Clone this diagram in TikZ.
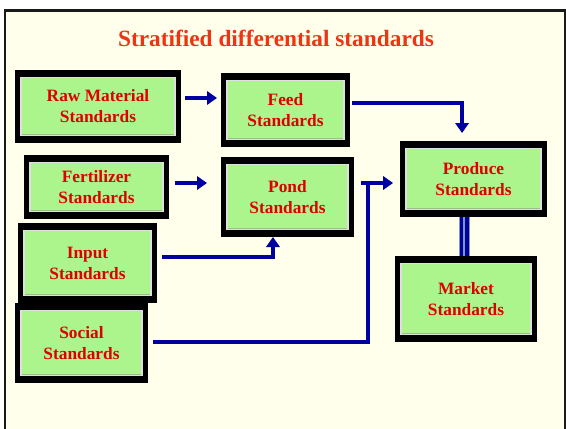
\documentclass[tikz,border=0pt]{standalone}
\usepackage{fontspec}
\setmainfont{Liberation Serif}
\usepackage{tikz}
\usetikzlibrary{arrows.meta,positioning,calc}

\definecolor{slidebg}{RGB}{255,255,236}
\definecolor{boxgreen}{RGB}{172,245,140}
\definecolor{txtred}{RGB}{222,0,0}
\definecolor{ttlred}{RGB}{238,52,20}
\definecolor{wireblue}{RGB}{0,0,160}
\definecolor{pipeedge}{RGB}{125,155,185}

\tikzset{
  slide/.style  = {draw=black!90, line width=2pt, fill=slidebg},
  ttl/.style    = {font=\fontsize{17.5}{20}\selectfont\bfseries, text=ttlred},
  stdbox/.style 2 args = {rectangle, fill=black, outer sep=0pt, inner sep=0pt,
                  minimum width={#1*0.75pt}, minimum height={#2*0.75pt},
                  align=center, text=txtred,
                  font=\fontsize{13}{15.8}\selectfont\bfseries,
                  path picture={
                    \draw[white!75!gray, line width=1pt, fill=boxgreen]
                      ([shift={(4.6pt,-5.4pt)}]path picture bounding box.north west)
                      rectangle ([shift={(-4.6pt,5.4pt)}]path picture bounding box.south east);
                    \draw[boxgreen!55!gray, line width=1.4pt]
                      ([shift={(5.2pt,6.4pt)}]path picture bounding box.south west)
                      -- ([shift={(-5.2pt,6.4pt)}]path picture bounding box.south east);
                  }},
  wire/.style   = {draw=wireblue, line width=3.2pt,
                  -{Triangle[length=7.5pt,width=10pt]}},
  pipe/.style   = {draw=wireblue, line width=2.6pt, double=pipeedge,
                  double distance=1.5pt,
                  preaction={draw=pipeedge, line width=8.2pt}}
}

\begin{document}
\begin{tikzpicture}[x=0.75pt, y=-0.75pt]
\useasboundingbox (0,0) rectangle (566,428);
\clip (0,0) rectangle (566,428);

% ---------- slide ----------
\draw[slide] (5,10.5) rectangle (565,445);
\node[ttl] (title) at (276,38) {Stratified differential standards};

% ---------- standards (left column) ----------
\node[stdbox={166}{73}] (raw)  at (98,106.5) {Raw Material\\Standards};
\node[stdbox={145}{64}] (fert) at (96.5,187) {Fertilizer\\Standards};
\node[stdbox={139}{80}] (inp)  at (87.5,263) {Input\\Standards};
\node[stdbox={133}{80}] (soc)  at (81.5,343) {Social\\Standards};

% ---------- standards (middle and right) ----------
\node[stdbox={129}{74}] (feed) at (285.5,110) {Feed\\Standards};
\node[stdbox={133}{80}] (pond) at (287.5,197) {Pond\\Standards};
\node[stdbox={147}{76}] (prod) at (473.5,179) {Produce\\Standards};
\node[stdbox={142}{86}] (mkt)  at (466,299)   {Market\\Standards};

% ---------- arrows ----------
\draw[wire, shorten >=3pt] ([shift={(4,-8.5)}]raw.east) coordinate (rf)
      -- (rf -| feed.west);
\draw[wire, shorten >=10.5pt] ([shift={(6,-4)}]fert.east) coordinate (fp)
      -- (fp -| pond.west);
\draw[wire, shorten >=6pt] ([shift={(2,-7)}]feed.east)
      -| ([xshift=-8.6pt]prod.north);
\draw[wire] ([shift={(5,-6)}]inp.east) -| ([xshift=-10.9pt]pond.south);

% social goes up the side and into produce
\coordinate (sp) at ([shift={(-32,4)}]prod.west);
\draw[wire, -] ([shift={(5,-1)}]soc.east) -| (sp);
\draw[wire, shorten >=5.2pt] ([xshift=-5.3pt]sp) -- (sp -| prod.west);

% produce = market
\draw[pipe] ([xshift=-7.1pt]prod.south) coordinate (pm) -- (pm |- mkt.north);

\end{tikzpicture}
\end{document}
